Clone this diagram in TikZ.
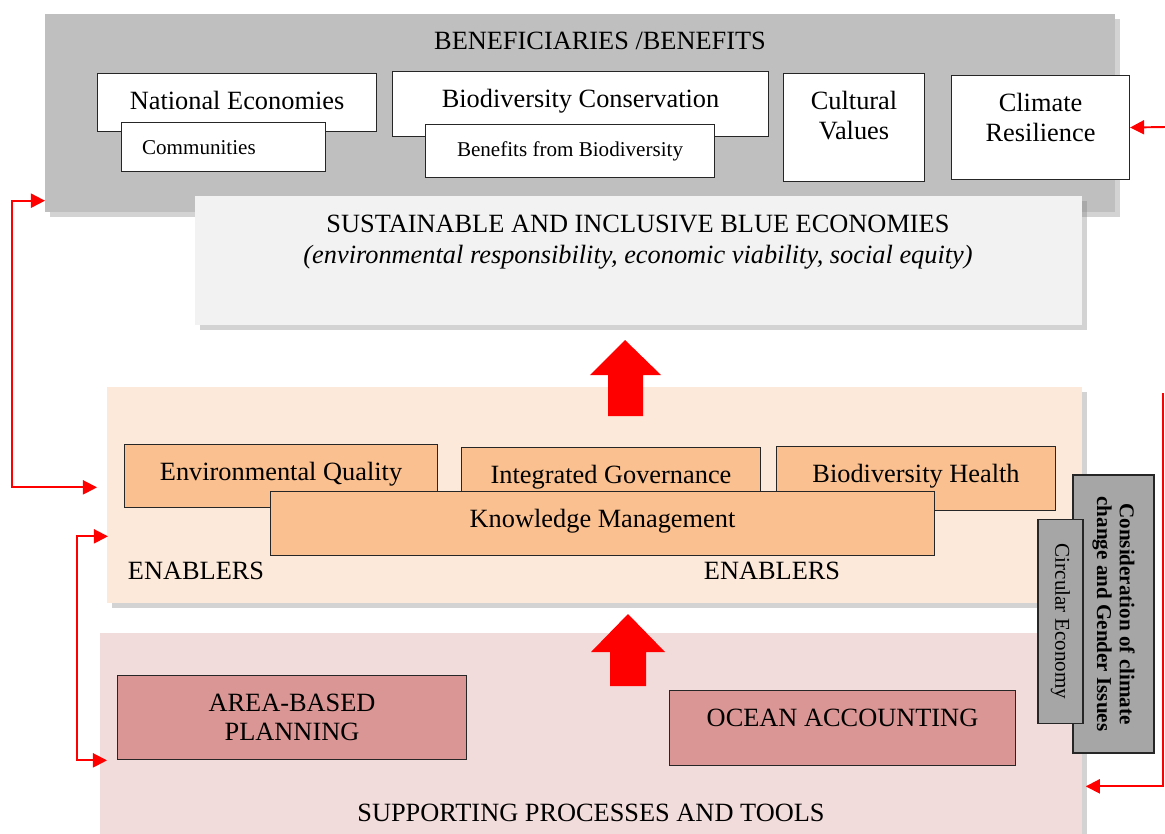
\documentclass[tikz,border=0pt]{standalone}
\usepackage{fontspec}
\setmainfont{Liberation Serif}
\usetikzlibrary{
    arrows.meta,
    positioning,
    shadows
}
\definecolor{bengray}{HTML}{BFBFBF}
\definecolor{sustgray}{HTML}{F2F2F2}
\definecolor{enabfill}{HTML}{FDE9D9}
\definecolor{enabbox}{HTML}{FAC090}
\definecolor{suppfill}{HTML}{F2DCDB}
\definecolor{suppbox}{HTML}{D99694}
\definecolor{sidegray}{HTML}{A6A6A6}
\tikzset{
    every picture/.style = {
        x = 0.02cm,
        y = -0.02cm,
        > = {Triangle[length = 8pt, width = 8pt]}
    },
    every node/.style = {
        inner sep = 1pt,
        align = center,
        font = \fontsize{15}{17}\selectfont
    },
    sized/.style 2 args = {
        minimum width = #1*0.02cm,
        minimum height = #2*0.02cm
    },
    panel/.style = {
        anchor = north west,
        drop shadow = {shadow xshift = 2.5pt, shadow yshift = -2.5pt, opacity = 0.35}
    },
    plainbox/.style = {
        anchor = north west,
        draw = black!85,
        line width = 0.6pt
    },
    txt/.style = {
        anchor = north,
        yshift = -0.26cm,
        execute at begin node = \strut
    },
    txtlines/.style = {txt, yshift = -0.07cm},
    smalltxt/.style = {font = \fontsize{12}{14}\selectfont},
    sidetext/.style = {
        draw = black!85,
        line width = 0.6pt,
        fill = sidegray,
        rotate = -90,
        font = \fontsize{12}{13}\selectfont
    },
    link/.style = {draw = red, line width = 1.1pt}
}

\begin{document}
\begin{tikzpicture}
    \useasboundingbox (0,0) rectangle (1165,834);

    % beneficiaries / benefits
    \node[panel, fill = bengray, sized = {1070}{198}] (ben) at (45,14) {};
    \node (ben-t) at (600,41) {BENEFICIARIES /BENEFITS};
    \node[plainbox, fill = white, sized = {279}{58}, label = {[txt]north:National Economies}] (nat) at (97,73) {};
    \node[plainbox, fill = white, sized = {204}{49}, label = {[txt, smalltxt, anchor = north west, xshift = 0.38cm]north west:Communities}] (comm) at (121,122) {};
    \node[plainbox, fill = white, sized = {376}{65}, label = {[txt]north:Biodiversity Conservation}] (bio) at (392,71) {};
    \node[plainbox, fill = white, sized = {289}{53}, label = {[txt, smalltxt]north:Benefits from Biodiversity}] (bene) at (425,124) {};
    \node[plainbox, fill = white, sized = {141}{108}, label = {[txtlines]north:Cultural\\Values}] (cult) at (783,73) {};
    \node[plainbox, fill = white, sized = {178}{104}, label = {[txtlines]north:Climate\\Resilience}] (clim) at (951,75) {};

    % blue economies
    \node[panel, fill = sustgray, sized = {887}{129}] (sust) at (195,196) {};
    \node[font = \fontsize{15}{18}\selectfont] (sust-t) at (638,242) {SUSTAINABLE AND INCLUSIVE BLUE ECONOMIES\\\textit{(environmental responsibility, economic viability, social equity)}};

    % enablers
    \node[panel, fill = enabfill, sized = {975}{216}] (enab) at (107,387) {};
    \node[plainbox, fill = enabbox, sized = {313}{63}, label = {[txt]north:Environmental Quality}] (env) at (124,444) {};
    \node[plainbox, fill = enabbox, sized = {299}{56}, label = {[txt]north:Integrated Governance}] (gov) at (461,447) {};
    \node[plainbox, fill = enabbox, sized = {279}{64}, label = {[txt]north:Biodiversity Health}] (hlth) at (776,446) {};
    \node[plainbox, fill = enabbox, sized = {664}{64}, label = {[txt]north:Knowledge Management}] (know) at (270,491) {};
    \node (en-l) at (196,571) {ENABLERS};
    \node (en-r) at (772,571) {ENABLERS};

    % supporting processes
    \node[panel, fill = suppfill, sized = {982}{240}] (supp) at (100,633) {};
    \node[plainbox, fill = suppbox, sized = {349}{84}, label = {[txtlines]north:AREA-BASED\\PLANNING}] (area) at (117,675) {};
    \node[plainbox, fill = suppbox, sized = {346}{75}, label = {[txt]north:OCEAN ACCOUNTING}] (ocean) at (669,690) {};
    \node (supp-t) at (591,813) {SUPPORTING PROCESSES AND TOOLS};

    % cross-cutting
    \node[sidetext, sized = {278}{81}, font = \fontsize{12}{13}\selectfont\bfseries] (cons) at (1113.5,614) {Consideration of climate\\change and Gender Issues};
    \node[sidetext, sized = {204}{45}] (circ) at (1060.5,621.5) {Circular Economy};

    % big arrows
    \fill[red] (608,416) -- (608,375) -- (590,375) -- (625,340) -- (661,375) -- (643,375) -- (643,416) -- cycle;
    \fill[red] (610,686) -- (610,652) -- (591,652) -- (628,614) -- (665,652) -- (646,652) -- (646,686) -- cycle;

    % links
    \draw[link, <->] ([yshift = 0.24cm]ben.south west) -- ++(-33,0) |- ([shift = {(-10,-8)}]enab.west);
    \draw[link, <->] ([shift = {(1,41)}]enab.west) -- ++(-31,0) |- ([shift = {(7,7)}]supp.west);
    \coordinate (c-top) at (1163,393);
    \draw[link, ->] (c-top) |- ([shift = {(3,33)}]supp.east);
    \coordinate (d-start) at (1166,127);
    \draw[link, ->] (d-start) -- (clim.east);
\end{tikzpicture}
\end{document}
